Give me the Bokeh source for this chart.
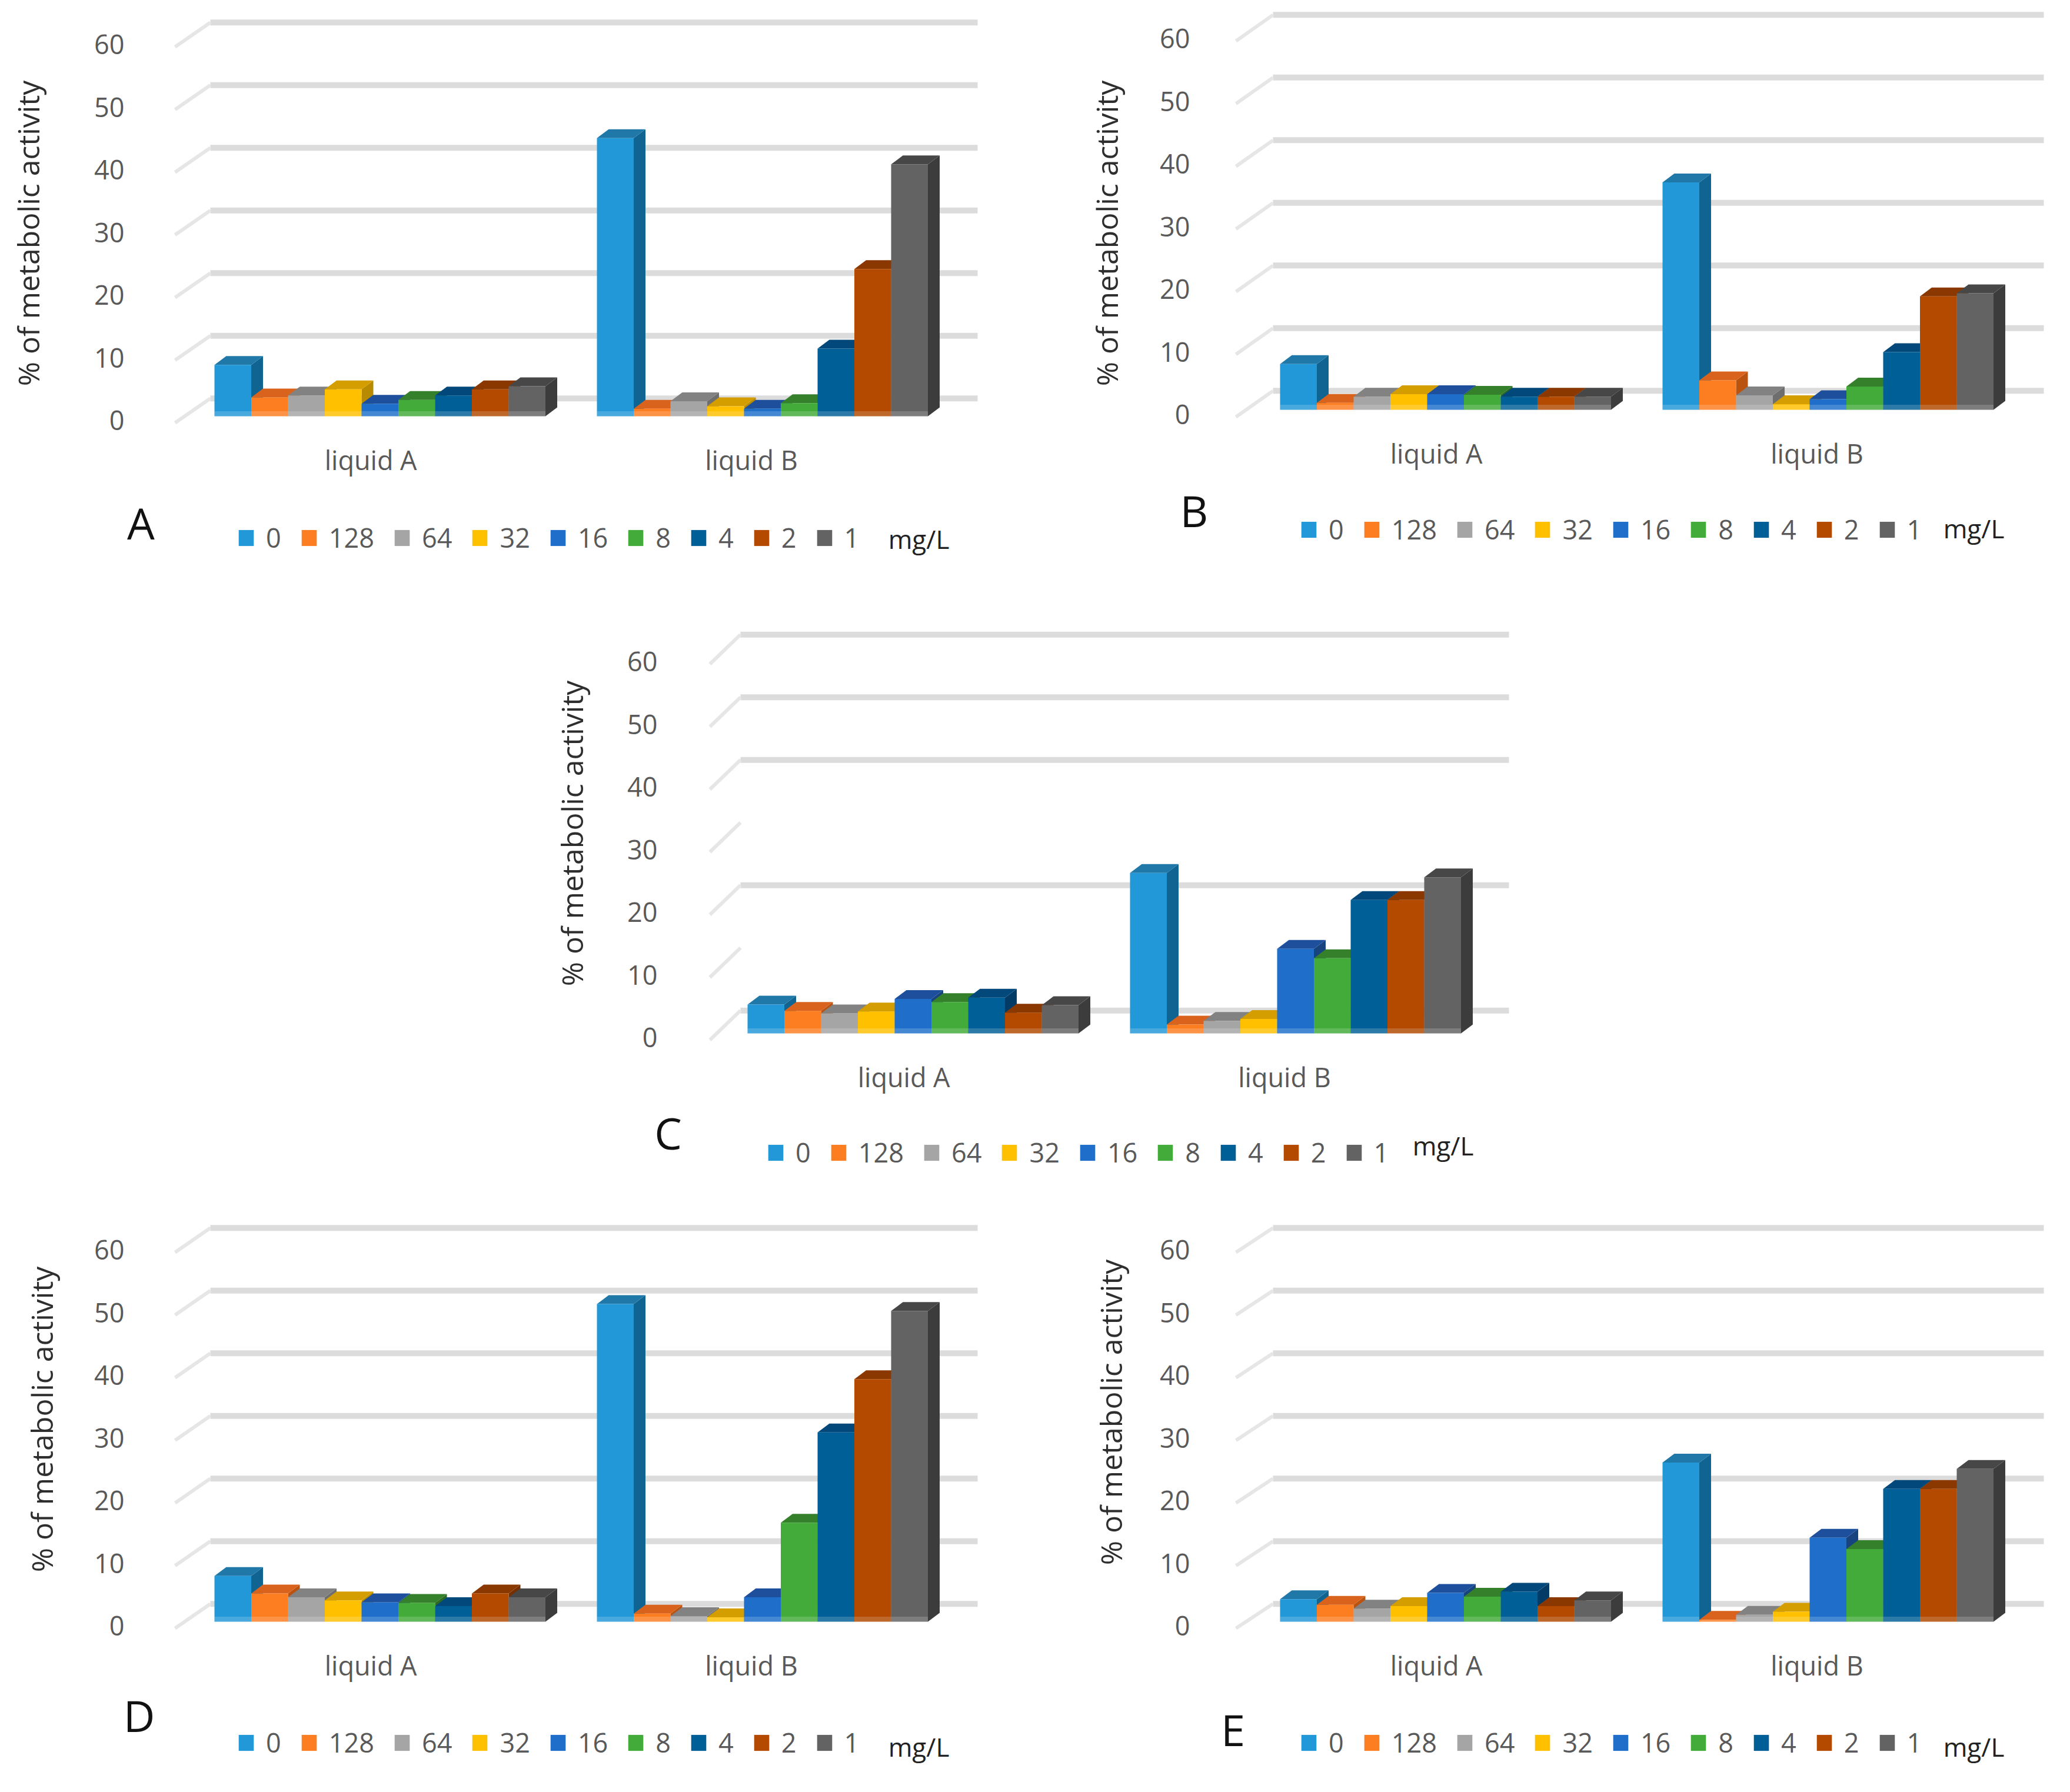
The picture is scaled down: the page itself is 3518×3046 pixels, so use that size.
from bokeh.plotting import figure
from bokeh.layouts import column, row
from bokeh.models import (Range1d, FixedTicker, Legend, LegendItem, Label, Spacer)
from bokeh.embed import file_html
from bokeh.resources import INLINE
import math

# ---------- data ----------
concentrations = ["0", "128", "64", "32", "16", "8", "4", "2", "1"]
groups = ["liquid A", "liquid B"]
y_ticks = [0, 10, 20, 30, 40, 50, 60]

a_liquid_a = [8.2, 3.0, 3.3, 4.3, 2.0, 2.6, 3.3, 4.3, 4.8]
a_liquid_b = [44.4, 1.2, 2.4, 1.6, 1.2, 2.1, 10.8, 23.5, 40.2]
b_liquid_a = [7.3, 1.1, 2.1, 2.5, 2.5, 2.4, 2.1, 2.1, 2.1]
b_liquid_b = [36.3, 4.7, 2.3, 0.9, 1.7, 3.7, 9.2, 18.1, 18.6]
c_liquid_a = [4.6, 3.6, 3.2, 3.5, 5.5, 5.0, 5.7, 3.3, 4.5]
c_liquid_b = [25.6, 1.4, 2.0, 2.3, 13.5, 12.0, 21.3, 21.3, 24.9]
d_liquid_a = [7.3, 4.5, 3.9, 3.4, 3.1, 3.0, 2.5, 4.5, 3.9]
d_liquid_b = [50.7, 1.3, 0.9, 0.7, 3.9, 15.8, 30.2, 38.7, 49.6]
e_liquid_a = [3.6, 2.7, 2.1, 2.5, 4.6, 4.0, 4.8, 2.5, 3.4]
e_liquid_b = [25.4, 0.3, 1.1, 1.6, 13.4, 11.6, 21.2, 21.2, 24.4]

front_colors = ["#2398d8", "#fd7e21", "#a5a5a5", "#ffc000", "#1f6fca",
                "#43ab39", "#005f96", "#b34a00", "#636363"]
top_colors = ["#1f78a8", "#d9631c", "#828282", "#d49e00", "#1d4f9c",
              "#35802b", "#03487a", "#8a3800", "#474747"]
side_colors = ["#0f6491", "#b9530f", "#6e6e6e", "#b88a00", "#17437f",
               "#2b6b22", "#023c66", "#752f00", "#3c3c3c"]

TEXT = "#595959"
FONT = "Open Sans"
UNIT = 10.65    # px per value unit
SLOT = 62.5     # px per bar


def panel(letter, liquid_a, liquid_b, fig_box, axis_px, bar0, lab0, base,
          wall_off, wall_x, stub_x, grid_vals, title_xy, letter_xy,
          legend_xy, mg_xy):
    left, top, right, bottom = fig_box
    to_x = lambda px: (px - bar0) / SLOT
    to_y = lambda py: (lab0 - py) / UNIT

    p = figure(width=right - left, height=bottom - top,
               x_range=Range1d(to_x(left), to_x(right)),
               y_range=Range1d(to_y(bottom), to_y(top)),
               output_backend="svg", toolbar_location=None,
               min_border_left=0, min_border_right=0,
               min_border_top=0, min_border_bottom=0,
               outline_line_color=None, background_fill_color="white")
    p.grid.visible = False

    # back wall
    wx0, wx1 = to_x(wall_x[0]), to_x(wall_x[1])
    p.segment([wx0] * len(grid_vals), [v + wall_off for v in grid_vals],
              [wx1] * len(grid_vals), [v + wall_off for v in grid_vals],
              line_color="#dcdcdc", line_width=10)
    p.segment([to_x(stub_x)] * len(y_ticks), [v - 0.4 for v in y_ticks],
              [wx0] * len(y_ticks), [v + wall_off for v in y_ticks],
              line_color="#e6e6e6", line_width=6)

    # pseudo-3D bars, drawn left to right
    lift = (lab0 - base) / UNIT
    dx, dy, off = 20 / SLOT, 15 / UNIT, 10.4
    items = []
    for i, name in enumerate(concentrations):
        xs0 = [i, off + i]
        vals = [liquid_a[i], liquid_b[i]]
        sx, sy, tx, ty = [], [], [], []
        for x, v in zip(xs0, vals):
            sx.append([x + 1, x + 1 + dx, x + 1 + dx, x + 1])
            sy.append([lift, lift + dy, lift + v + dy, lift + v])
            tx.append([x, x + dx, x + 1 + dx, x + 1])
            ty.append([lift + v, lift + v + dy, lift + v + dy, lift + v])
        p.patches(sx, sy, fill_color=side_colors[i], line_color=None)
        p.patches(tx, ty, fill_color=top_colors[i], line_color=None)
        front = p.vbar(x=[x + 0.5 for x in xs0], width=1.0, bottom=lift,
                       top=[lift + v for v in vals],
                       fill_color=front_colors[i], line_color=None)
        p.vbar(x=[x + 0.5 for x in xs0], width=1.0, bottom=lift,
               top=[lift + min(v, 0.8) for v in vals],
               fill_color="white", fill_alpha=0.17, line_color=None)
        items.append(LegendItem(label=name, renderers=[front]))

    # axes
    ya = p.yaxis[0]
    ya.ticker = FixedTicker(ticks=y_ticks)
    ya.bounds = (0, 60)
    ya.fixed_location = to_x(axis_px)
    ya.axis_line_color = None
    ya.major_tick_line_color = None
    ya.minor_tick_line_color = None
    ya.major_label_standoff = 2
    ya.major_label_text_font = FONT
    ya.major_label_text_font_size = "45px"
    ya.major_label_text_color = TEXT

    xa = p.xaxis[0]
    tick_pos = [4.25, off + 4.2]
    xa.ticker = FixedTicker(ticks=tick_pos)
    xa.major_label_overrides = dict(zip(tick_pos, groups))
    xa.fixed_location = to_y(base + 37)
    xa.axis_line_color = None
    xa.major_tick_line_color = None
    xa.minor_tick_line_color = None
    xa.major_label_standoff = 0
    xa.major_label_text_font = FONT
    xa.major_label_text_font_size = "45px"
    xa.major_label_text_color = TEXT

    # legend
    leg = Legend(items=items, orientation="horizontal",
                 location=(legend_xy[0] - left, bottom - legend_xy[1] - 34),
                 glyph_width=32, glyph_height=34, label_standoff=18, spacing=31,
                 padding=0, margin=0, border_line_color=None,
                 background_fill_alpha=0,
                 label_text_font=FONT, label_text_font_size="45px",
                 label_text_color=TEXT)
    p.add_layout(leg)

    # free text, placed in screen units relative to the frame
    def put(text, xy, size, color, angle=0.0):
        p.add_layout(Label(x=xy[0] - left, y=bottom - xy[1],
                           x_units="screen", y_units="screen",
                           text=text, angle=angle,
                           text_font=FONT, text_font_size=size, text_color=color,
                           text_align="center", text_baseline="middle"))

    put("% of metabolic activity", title_xy, "50px", "#2e2e2e", math.pi / 2)
    put(letter, letter_xy, "74px", "#111111")
    put("mg/L", mg_xy, "44px", "#222222")
    return p


all_grid = y_ticks
c_grid = [0, 20, 40, 50, 60]

fig_a = panel("A", a_liquid_a, a_liquid_b, (8, 8, 1800, 1020), 227, 372, 722, 715, 3.5,
              (365, 1669), 305, all_grid, (55, 404), (247, 896), (410, 918), (1569, 923))
fig_b = panel("B", b_liquid_a, b_liquid_b, (1800, 8, 3510, 1020), 2038, 2183, 712, 704, 3.77,
              (2171, 3481), 2108, all_grid, (1888, 404), (2037, 875), (2216, 904), (3362, 905))
fig_c = panel("C", c_liquid_a, c_liquid_b, (800, 1020, 2700, 2030), 1133, 1278, 1771, 1764, 4.3,
              (1266, 2572), 1214, c_grid, (979, 1424), (1143, 1933), (1310, 1963), (2460, 1954))
fig_d = panel("D", d_liquid_a, d_liquid_b, (8, 2030, 1800, 3038), 227, 372, 2771, 2764, 3.5,
              (365, 1669), 305, all_grid, (78, 2420), (244, 2923), (410, 2966), (1569, 2976))
fig_e = panel("E", e_liquid_a, e_liquid_b, (1800, 2030, 3510, 3038), 2038, 2183, 2771, 2764, 3.5,
              (2171, 3481), 2108, all_grid, (1895, 2408), (2103, 2947), (2216, 2966), (3362, 2976))

page = column(row(fig_a, fig_b),
              row(Spacer(width=792, height=1010), fig_c),
              row(fig_d, fig_e))

open("out.html", "w").write(file_html(page, INLINE))
